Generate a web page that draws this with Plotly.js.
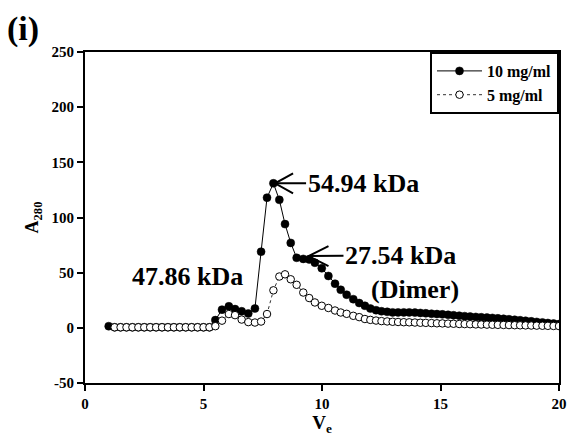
<!DOCTYPE html>
<html>
<head>
<meta charset="utf-8">
<script src="https://cdn.plot.ly/plotly-3.0.1.min.js"></script>
<style>html,body{margin:0;padding:0;background:#fff;}#chart{width:570px;height:439px;}</style>
</head>
<body>
<div id="chart"></div>
<script>
// Elution volume (Ve) of each fraction
const ve = [1.0,
  1.25,1.5,1.75,2.0,2.25,2.5,2.75,3.0,3.25,3.5,3.75,4.0,4.25,4.5,4.75,5.0,5.25,
  5.5,5.78,6.07,6.33,6.61,6.89,7.17,7.43,7.68,7.95,8.2,8.44,8.68,8.93,9.21,9.46,9.7,9.99,
  10.27,10.55,10.79,11.04,11.32,11.57,11.81,
  12.04,12.28,12.51,12.75,12.98,13.21,13.45,13.68,13.92,14.15,14.38,14.62,14.85,15.08,15.32,
  15.55,15.79,16.02,16.25,16.49,16.72,16.96,17.19,17.42,17.66,17.89,18.13,18.36,18.59,18.83,
  19.06,19.3,19.53,19.77,20.0];

// A280 for 10 mg/ml
const a10 = [1.5,
  0.5,0.5,0.5,0.5,0.5,0.5,0.5,0.5,0.5,0.5,0.5,0.5,0.5,0.5,0.5,0.5,0.5,
  7,16.5,19.5,17,15,13,17.5,69,118,131,116,94,77,63.5,62.5,62,59,54,
  47,40,34.5,30,26,22.5,20,
  17.5,16,15,14.5,14,14,14,14,13.8,13.5,13.2,12.8,12.5,12.2,11.8,
  11.4,11,10.6,10.2,9.9,9.6,9.3,9,8.6,8.2,7.8,7.3,6.9,6.4,5.9,
  5.4,4.9,4.4,3.9,3.4];

// A280 for 5 mg/ml
const a5 = [null,
  0.5,0.5,0.5,0.5,0.5,0.5,0.5,0.5,0.5,0.5,0.5,0.5,0.5,0.5,0.5,0.5,0.5,
  1.5,6.5,12.5,11.5,7.5,5.2,4.8,5.7,12.5,34,46.5,48.5,44,39,32,27,23,20,
  18,15.7,13.9,12.7,10.9,9.7,8,
  7.2,6.6,6.1,5.8,5.5,5.3,5.1,5.0,4.8,4.6,4.5,4.3,4.1,4.0,3.8,
  3.7,3.5,3.4,3.3,3.1,3.0,2.9,2.8,2.7,2.6,2.5,2.4,2.3,2.2,2.1,
  2.0,1.9,1.8,1.7,1.6];

const seriesNames = ["10 mg/ml", "5 mg/ml"];
const xTicks = [0, 5, 10, 15, 20];
const yTicks = [-50, 0, 50, 100, 150, 200, 250];

const FONT = "Liberation Serif, Times New Roman, serif";

const traces = [
  {
    x: ve, y: a10, name: seriesNames[0], type: "scatter", mode: "lines+markers",
    line: {color: "#000", width: 1},
    marker: {symbol: "circle", size: 8, color: "#000", line: {color: "#000", width: 0.5}}
  },
  {
    x: ve, y: a5, name: seriesNames[1], type: "scatter", mode: "lines+markers",
    line: {color: "#333", width: 1, dash: "dot"},
    marker: {symbol: "circle", size: 7.5, color: "#fff", line: {color: "#000", width: 1}}
  }
];

const axisCommon = {
  showline: true, linecolor: "#000", linewidth: 2, mirror: true,
  ticks: "outside", ticklen: 6, tickwidth: 2, tickcolor: "#000",
  showgrid: false, zeroline: false,
  tickfont: {family: FONT, size: 15, color: "#000", weight: "bold"}
};

const bold = {family: FONT, size: 26, color: "#000", weight: "bold"};

const annotations = [
  {xref: "paper", yref: "paper", x: -0.13, y: 1.07, xanchor: "center", yanchor: "middle",
   text: "<b>(i)</b>", showarrow: false, font: {family: FONT, size: 34, color: "#000"}},
  {x: 8.02, y: 131, ax: 88, ay: 0, text: "<b>54.94 kDa</b>", showarrow: true, arrowhead: 0,
   arrowwidth: 2, arrowcolor: "#000", font: bold, standoff: 0},
  {x: 9.43, y: 65, ax: 92, ay: -1, text: "<b>27.54 kDa</b>", showarrow: true, arrowhead: 0,
   arrowwidth: 2, arrowcolor: "#000", font: bold, standoff: 0},
  {x: 13.92, y: 34.3, text: "<b>(Dimer)</b>", showarrow: false, font: bold},
  {x: 4.32, y: 46.3, text: "<b>47.86 kDa</b>", showarrow: false, font: bold}
];

// open V arrowheads at the two arrow tips (sized in pixels)
const shapes = [
  {type: "path", xref: "x", yref: "y", xsizemode: "pixel", ysizemode: "pixel",
   xanchor: 8.02, yanchor: 131, path: "M18,10 L0,0 L18,-10",
   line: {color: "#000", width: 2}},
  {type: "path", xref: "x", yref: "y", xsizemode: "pixel", ysizemode: "pixel",
   xanchor: 9.43, yanchor: 65, path: "M20,10 L0,0 L20,-10",
   line: {color: "#000", width: 2}}
];

const layout = {
  width: 570, height: 439,
  margin: {l: 85, r: 11, t: 52, b: 56, pad: 0},
  paper_bgcolor: "#fff", plot_bgcolor: "#fff",
  showlegend: true,
  legend: {
    x: 1, y: 1, xanchor: "right", yanchor: "top",
    bgcolor: "#fff", bordercolor: "#000", borderwidth: 2,
    font: {family: FONT, size: 16, color: "#000", weight: "bold"},
    tracegroupgap: 0, itemwidth: 45
  },
  xaxis: Object.assign({}, axisCommon, {
    range: [0, 20], tickvals: xTicks, ticktext: xTicks.map(String),
    title: {text: "<b>V<sub>e</sub></b>", font: {family: FONT, size: 19, color: "#000"}, standoff: 4}
  }),
  yaxis: Object.assign({}, axisCommon, {
    range: [-50, 250], tickvals: yTicks, ticktext: yTicks.map(String),
    title: {text: "<b>A<sub>280</sub></b>", font: {family: FONT, size: 18, color: "#000"}, standoff: 8}
  }),
  annotations: annotations,
  shapes: shapes
};

Plotly.newPlot("chart", traces, layout, {displayModeBar: false, staticPlot: true});
</script>
</body>
</html>
